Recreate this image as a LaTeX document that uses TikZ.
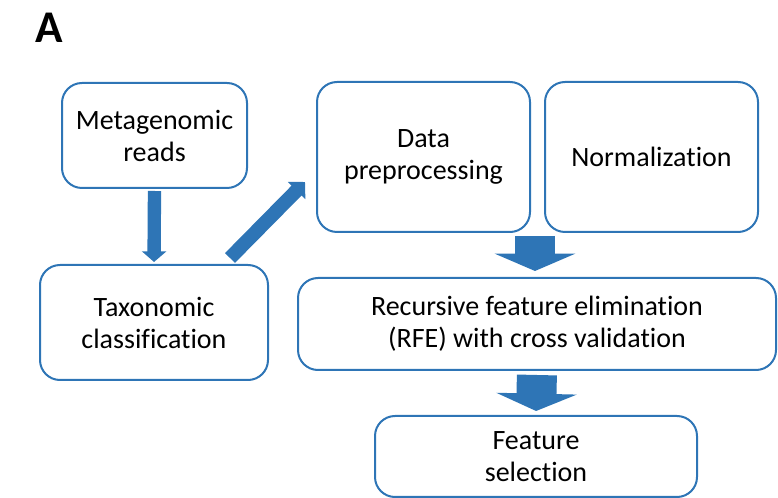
\documentclass[tikz,border=0pt]{standalone}
\usepackage{fontspec}
\setmainfont{Carlito}[Ligatures=NoCommon]
\usetikzlibrary{arrows.meta}
\definecolor{boxblue}{HTML}{2E75B6}
\begin{document}
\begin{tikzpicture}[x=0.75pt,y=-0.75pt]
             \useasboundingbox (0,0) rectangle (778,498);
             \node(lbl) at (49,28) {\fontsize{34}{34}\selectfont\bfseries A};
             \begin{scope}[every node/.style = {rounded corners=15pt, draw=boxblue, line width=1.5pt,
                     align=center, inner sep=0pt, font=\fontsize{21}{24}\selectfont}]
                \node[minimum width=138.75pt, minimum height=78.75pt](meta) at (154.5,135.5) {Metagenomic\\reads};
                \node[minimum width=171pt, minimum height=86.25pt](tax) at (154,322.5) {Taxonomic\\classification};
                \node[minimum width=159.75pt, minimum height=112.5pt](data) at (423.5,157) {Data\\preprocessing};
                \node[minimum width=159.75pt, minimum height=112.5pt](norm) at (651.5,157) {Normalization};
                \node[minimum width=358.5pt, minimum height=69pt](rfe) at (537,324) {Recursive feature elimination\\(RFE) with cross validation};
                \node[minimum width=241.5pt, minimum height=60.75pt](feat) at (536,456.5) {Feature\\selection};
            \end{scope}
            \coordinate(diag1) at (230,258);
            \coordinate(diag2) at (305,182);
            \coordinate(join) at (535,236);

            \begin{scope}[every edge/.style = {draw, boxblue}]
                \path(meta.south) edge[line width=10pt, -{Triangle[width=18pt,length=8pt]}, shorten <=1.5pt, shorten >=1.5pt] (tax.north);
                \path(diag1) edge[line width=10.5pt, -{Triangle[width=18pt,length=9pt]}] (diag2);
                \path(join) edge[line width=30pt, -{Triangle[width=60pt,length=13pt]}, shorten >=4.5pt] (join |- rfe.north);
                \path(rfe.south) edge[line width=30pt, -{Triangle[width=60pt,length=13pt]}, shorten <=3pt, shorten >=3pt] (feat.north);
            \end{scope}
        \end{tikzpicture}
\end{document}
